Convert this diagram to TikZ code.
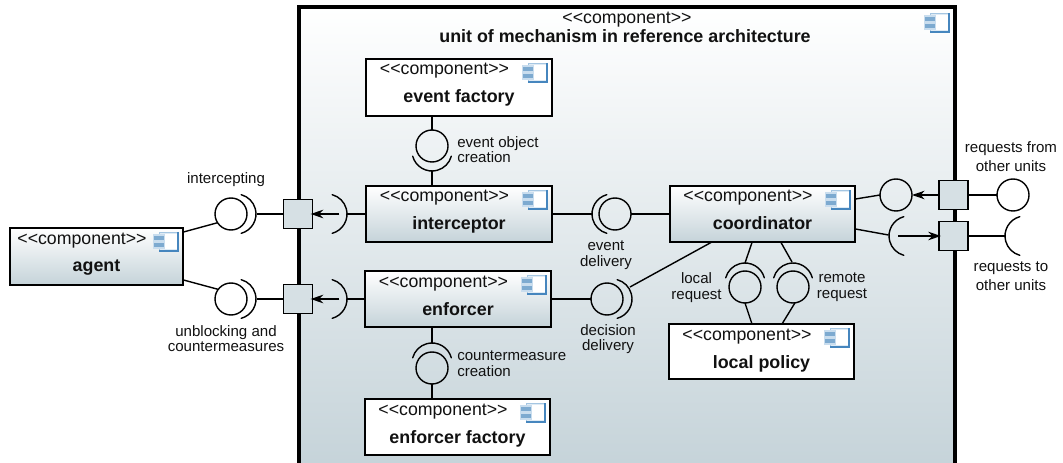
\documentclass[tikz,border=0pt]{standalone}
\usepackage{fontspec}
\setmainfont{Liberation Sans}
\usetikzlibrary{calc,arrows.meta}
\definecolor{gradbot}{RGB}{197,211,217}
\definecolor{portfill}{RGB}{214,224,228}
\definecolor{iconblue}{RGB}{70,134,190}
\definecolor{iconlight}{RGB}{165,198,226}
\definecolor{icontab}{RGB}{125,170,208}
\definecolor{inktext}{RGB}{17,17,17}
\tikzset{
  ln/.style={line width=1.05pt,draw=black},
  whitebox/.style={ln,fill=white},
  gradbox/.style={ln,top color=white,bottom color=gradbot},
  portbox/.style={ln,fill=portfill,minimum size=22pt,inner sep=0pt,outer sep=0pt},
  ball/.style={ln,circle,minimum size=24pt,inner sep=0pt,outer sep=0pt},
  arrowln/.style={ln,-{Stealth[length=9.5pt,width=6.5pt,inset=3pt,line width=0pt]}},
  stereo/.style={font=\fontsize{13.3}{14}\selectfont,text=inktext,inner sep=0pt,anchor=base},
  cname/.style={font=\fontsize{13.4}{14}\bfseries\selectfont,text=inktext,inner sep=0pt,anchor=base},
  lab/.style={font=\fontsize{11.3}{11.8}\selectfont,text=inktext,inner sep=0pt,align=center},
  labwide/.style={font=\fontsize{11.3}{14.2}\selectfont,text=inktext,inner sep=0pt,align=center},
  labl/.style={lab,align=left,anchor=west},
}
\newcommand{\stereotext}{<{}<component>{}>}
% icon at right-top corner
\newcommand{\compicon}[2]{%
  \fill[iconlight!35] (#1+6,#2) rectangle (#1+26,#2+19);
  \fill[white] (#1+8,#2+2) rectangle (#1+24,#2+17);
  \draw[iconlight,line width=.6pt] (#1+6,#2+19) -- (#1+6,#2) -- (#1+26,#2);
  \draw[iconblue,line width=1.1pt] (#1+25,#2) -- (#1+25,#2+19) -- (#1+6,#2+19);
  \fill[iconlight!60] (#1,#2+2) rectangle (#1+12,#2+17);
  \fill[icontab] (#1+1,#2+4) rectangle (#1+11,#2+8);
  \fill[icontab] (#1+1,#2+11) rectangle (#1+11,#2+15);
}
% name, x1,y1,x2,y2, style, title
\newcommand{\comp}[7]{%
  \pgfmathsetmacro{\cw}{(#4-#2)*.75}%
  \pgfmathsetmacro{\ch}{(#5-#3)*.75}%
  \node[#6,minimum width=\cw pt,minimum height=\ch pt,inner sep=0pt,outer sep=0pt] (#1) at ({(#2+#4)/2},{(#3+#5)/2}) {};
  \node[stereo] (#1s) at ({(#2+#4)/2-14.5},#3+16) {\stereotext};
  \node[cname] (#1n) at ({(#2+#4)/2},#3+44) {#7};
  \compicon{#4-30}{#3+4}
}
% name, apex x, apex y, direction of the bulge (true angle)
\newcommand{\socket}[4]{%
  \coordinate (#1) at (#2,#3);
  \draw[ln,line cap=round] ($(#1)+(#4+180:15pt)+(#4-75:15pt)$) arc[start angle=#4-75,end angle=#4+75,radius=15pt];
}
\begin{document}
\begin{tikzpicture}[x=.75pt,y=-.75pt]
\useasboundingbox (0,0) rectangle (1063,463);
\begin{scope}
\clip (0,0) rectangle (1063,463);
\shade[top color=white,bottom color=gradbot] (299,7) rectangle (955,470);
\draw[line width=2.4pt] (299,470) -- (299,7) -- (955,7) -- (955,470);
\end{scope}
\node[stereo] (mains) at (627,23.5) {\stereotext};
\node[cname] (mainn) at (625,42.5) {unit of mechanism in reference architecture};
\compicon{924}{13}

\comp{ef}{366}{59}{552}{116}{whitebox}{event factory}
\comp{ic}{366}{186}{552}{242}{gradbox}{interceptor}
\comp{en}{365}{271}{551}{327}{gradbox}{enforcer}
\comp{ff}{365}{399}{550}{455}{whitebox}{enforcer factory}
\comp{co}{670}{186}{855}{242}{gradbox}{coordinator}
\comp{lp}{669}{324}{854}{379}{whitebox}{local policy}
\comp{ag}{10}{228}{183}{285}{gradbox}{agent}

% ports
\node[portbox] (p1) at (298,214) {};
\node[portbox] (p2) at (298,299) {};
\node[portbox] (p3) at (953.5,195) {};
\node[portbox] (p4) at (953.5,236) {};

% balls
\node[ball] (b1) at (231,214) {};
\node[ball] (b2) at (231,299) {};
\node[ball] (b3) at (432,146) {};
\node[ball] (b4) at (432,368) {};
\node[ball] (b5) at (615,214) {};
\node[ball] (b6) at (607,299) {};
\node[ball] (b7) at (745,287) {};
\node[ball] (b8) at (793,287) {};
\node[ball] (b9) at (896,195) {};
\node[ball] (b10) at (1013,195) {};

% sockets
\socket{s1}{256}{214}{0}
\socket{s2}{256}{299}{0}
\socket{s3}{347}{214}{0}
\socket{s4}{347}{299}{0}
\socket{s5}{432}{171}{-90}
\socket{s6}{432}{343}{90}
\socket{s7}{592}{214}{180}
\socket{s8}{632}{299}{0}
\socket{s9}{745}{263}{90}
\socket{s10}{793}{263}{90}
\socket{s11}{889}{236}{180}
\socket{s12}{1005}{236}{180}

% connectors
\coordinate (ag1) at (183.5,232);
\coordinate (ag2) at (183.5,280);
\draw[ln] (ag1) -- (b1.213);
\draw[ln] (ag2) -- (b2.143);
\draw[ln] ([xshift=.75pt]s1) -- (p1.west);
\draw[ln] ([xshift=.75pt]s2) -- (p2.west);
\draw[ln] (s3) -- (ic.west);
\draw[ln] (s4) -- (en.west);
\draw[arrowln] ([xshift=20pt]p1.east) -- ([xshift=-1.5pt]p1.east);
\draw[arrowln] ([xshift=20pt]p2.east) -- ([xshift=-1.5pt]p2.east);
\draw[ln] (b3.north |- ef.south) -- (b3.north);
\draw[ln] (s5) -- (s5 |- ic.north);
\draw[ln] (s6) -- (s6 |- en.south);
\draw[ln] (b4.south) -- (b4.south |- ff.north);
\draw[ln] (ic.east |- s7) -- (s7);
\draw[ln] (b5.east) -- (co.west |- b5.east);
\draw[ln] (en.east |- b6.west) -- (b6.west);
\coordinate (co1) at (711,242.5);
\coordinate (s8e) at (630,287);
\draw[ln] (s8e) -- (co1);
\coordinate (co2) at (752,242.5);
\coordinate (co3) at (781,242.5);
\coordinate (lp1) at (752,324);
\coordinate (lp2) at (782,324);
\coordinate (s10e) at (792,262);
\draw[ln] (co2) -- (s9);
\draw[ln] (co3) -- (s10e);
\draw[ln] (b7.south) -- (lp1);
\draw[ln] (b8.-83) -- (lp2);
\coordinate (co4) at (855.5,199);
\coordinate (co5) at (855.5,229);
\coordinate (s11e) at (888.5,235);
\draw[ln] (co4) -- (b9.west);
\draw[ln] (co5) -- (s11e);
\draw[arrowln] (p3.west) -- (b9.east);
\draw[arrowln] ([xshift=7pt]s11) -- ([xshift=1.5pt]p4.west);
\draw[ln] (p3.east) -- (b10.west);
\draw[ln] (p4.east) -- (s12);

% labels
\node[lab] (l1) at (226,180) {intercepting};
\node[lab] (l2) at (226,338.5) {unblocking and\\countermeasures};
\node[labl] (l3) at (457,149.5) {event object\\creation};
\node[labl] (l4) at (457,363.5) {countermeasure\\creation};
\node[lab] (l5) at (606,255) {event\\delivery};
\node[lab] (l6) at (608,339) {decision\\delivery};
\node[lab] (l7) at (696.5,287.5) {local\\request};
\node[lab] (l8) at (842,287.5) {remote\\request};
\node[labwide] (l9) at (1011,157) {requests from\\other units};
\node[labwide] (l10) at (1011,276) {requests to\\other units};
\end{tikzpicture}
\end{document}
